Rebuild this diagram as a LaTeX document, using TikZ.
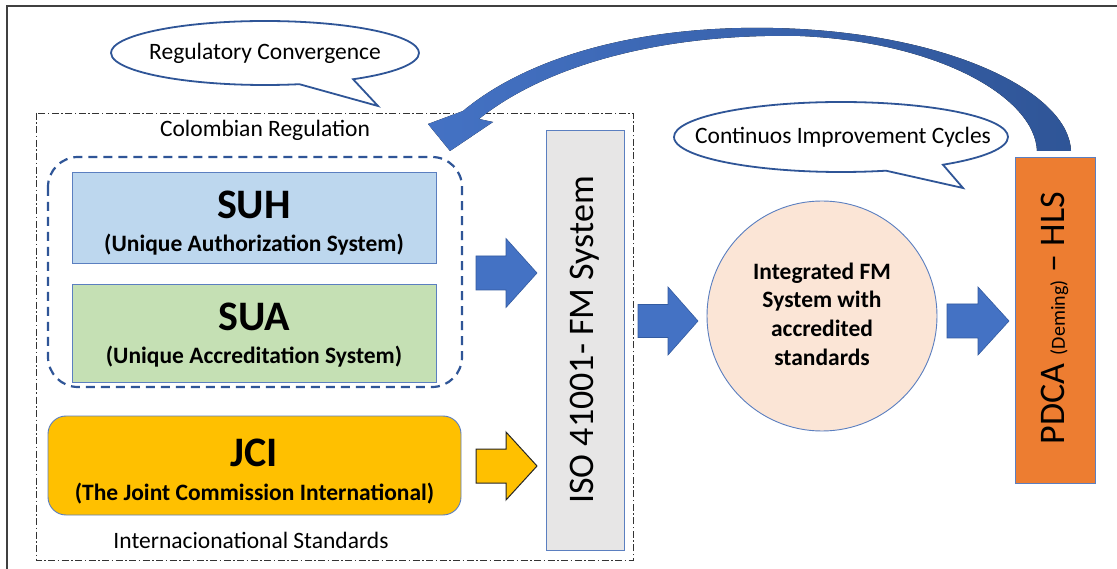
\documentclass[tikz,border=0pt]{standalone}
\usepackage{fontspec}
\setmainfont{Carlito}
\usetikzlibrary{shapes.callouts,shapes.geometric}

\definecolor{blueL}{HTML}{4472C4}
\definecolor{blueD}{HTML}{2F5597}
\definecolor{edgeblue}{HTML}{5B7FC0}
\definecolor{suhfill}{HTML}{BDD7EE}
\definecolor{suafill}{HTML}{C5E0B4}
\definecolor{jcifill}{HTML}{FFC000}
\definecolor{isofill}{HTML}{E7E6E6}
\definecolor{circfill}{HTML}{FBE5D6}
\definecolor{pdcafill}{HTML}{ED7D31}
\definecolor{framegray}{HTML}{404040}

\tikzset{
  txt/.style={font=\fontsize{23.5}{28.7}\selectfont, inner sep=0pt},
  btxt/.style={font=\fontsize{23.5}{28.7}\selectfont\bfseries, inner sep=0pt},
  ttl/.style={font=\fontsize{42}{46}\selectfont\bfseries, inner sep=0pt},
  stdbox/.style={draw=edgeblue, line width=0.9pt, inner sep=0pt},
  bubble/.style={ellipse callout, draw=blueD, line width=1.8pt, fill=white,
                 callout pointer arc=22, inner sep=0pt},
  bluearrow/.style={fill=blueL, draw=blueD!80!blueL, line width=0.6pt},
  goldarrow/.style={fill=jcifill, draw=black!85, line width=1pt},
}

% block arrow: #1 style, #2 shaft start x, #3 head base x, #4 tip x,
% #5 axis y, #6 half shaft width, #7 half head width
\newcommand\blockarrowshape[7]{%
  \draw[#1] (#2,#5-#6) -- (#3,#5-#6) -- (#3,#5-#7) -- (#4,#5)
     -- (#3,#5+#7) -- (#3,#5+#6) -- (#2,#5+#6) -- cycle;}

\begin{document}
\begin{tikzpicture}[x=1pt,y=-1pt]
\useasboundingbox (0,0) rectangle (1117,569);
\fill[white] (0,0) rectangle (1117,569);

% outer frame (left and top edges)
\draw[framegray, line width=1.6pt] (7,569) -- (7,6) -- (1117,6);

% group frames
\draw[black!80, line width=0.8pt, dash pattern=on 7pt off 2.5pt on 1.5pt off 2.5pt]
  (36,113) rectangle (633,560);
\draw[blueD, line width=2.2pt, dash pattern=on 9pt off 6pt, rounded corners=30pt]
  (48,157) rectangle (462,387);

\node[txt] (colreg) at (265,130) {Colombian Regulation};
\node[txt] (intstd) at (251,540) {Internacionational Standards};

% regulation boxes
\node[stdbox, fill=suhfill, minimum width=364pt, minimum height=91pt] (suh) at (254,217.5) {};
\node[ttl, anchor=base] at (254,219) {SUH};
\node[btxt, anchor=base] at (254,252) {(Unique Authorization System)};

\node[stdbox, fill=suafill, minimum width=364pt, minimum height=98pt] (sua) at (254,333) {};
\node[ttl, anchor=base] at (254,331) {SUA};
\node[btxt, anchor=base] at (254,364) {(Unique Accreditation System)};

\node[stdbox, fill=jcifill, rounded corners=18pt, minimum width=413pt, minimum height=99pt] (jci) at (254.5,465.5) {};
\node[ttl, anchor=base] at (254.5,466) {JCI};
\node[btxt, anchor=base] at (254.5,500) {(The Joint Commission International)};

% ISO system
\node[stdbox, fill=isofill, minimum width=78pt, minimum height=420pt] (iso) at (585,340) {};
\node[font=\fontsize{36}{40}\selectfont, rotate=90, inner sep=0pt] at (585,340) {ISO 41001- FM System};

% integrated system
\node[circle, draw=edgeblue, line width=0.9pt, fill=circfill, minimum size=230pt, inner sep=0pt] (integ) at (822,316) {};
\node[btxt, align=center] at (822,314) {Integrated FM\\System with\\accredited\\standards};

% PDCA
\node[stdbox, fill=pdcafill, minimum width=80pt, minimum height=326pt] (pdca) at (1055,320) {};
\node[font=\fontsize{36}{40}\selectfont, rotate=90, inner sep=0pt] at (1055,318)
  {PDCA {\fontsize{20}{22}\selectfont(Deming)} \textendash\ HLS};

% block arrows
\blockarrowshape{bluearrow}{476}{506}{537}{273}{17}{34.5}
\blockarrowshape{goldarrow}{476}{506}{537}{466}{17}{34}
\blockarrowshape{bluearrow}{638}{668}{698}{321}{16.5}{34}
\blockarrowshape{bluearrow}{947}{978}{1009}{321}{17}{34}

% feedback arrow from PDCA back to the regulation group
\fill[left color=blueL, right color=blueD]
  (1071,151) .. controls (1069,95) and (960,38) .. (800,29)
  .. controls (650,21) and (530,55) .. (463,111)
  -- (428,124) -- (450,151) -- (493,122) -- (479,119)
  .. controls (545,66) and (660,33) .. (800,36)
  .. controls (940,42) and (1035,98) .. (1037,151) -- cycle;

% callouts
\node[bubble, minimum width=308pt, minimum height=64pt,
      callout absolute pointer={(378,106)}] (regconv) at (265,53) {};
\node[txt] at (265,53) {Regulatory Convergence};
\node[bubble, minimum width=334pt, minimum height=70pt,
      callout absolute pointer={(963,188)}] (cycles) at (841,137) {};
\node[txt] at (843,137) {Continuos Improvement Cycles};
\end{tikzpicture}
\end{document}
